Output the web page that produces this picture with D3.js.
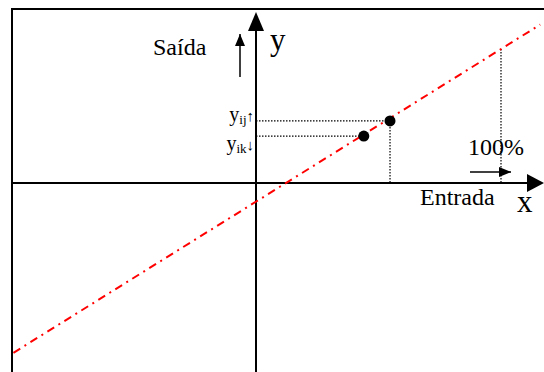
<!DOCTYPE html>
<html>
<head>
<meta charset="utf-8">
<script src="https://cdn.jsdelivr.net/npm/d3@7"></script>
<style>
body { margin: 0; background: #fff; }
text { font-family: "Liberation Serif", "Times New Roman", serif; fill: #000; }
</style>
</head>
<body>
<div id="chart"></div>
<script>
// straight line (input -> output), two end points in percent units
const lineX = [-99, 116]
const lineY = [-126.7, 118.2]
// the two marked points: y_ik (lower) and y_ij (upper)
const pointX = [44, 54.7]
const pointY = [35, 46.3]
const pointNames = ["ik", "ij"]
const fullScale = 100

const width = 544
const height = 372

const svg = d3.select('#chart')
  .append("svg")
  .attr("width", width)
  .attr("height", height)

// origin at (256,183), 100% at x=501
var x = d3.scaleLinear()
  .domain([0, fullScale])
  .range([256, 501]);

var y = d3.scaleLinear()
  .domain([0, fullScale])
  .range([183, 49]);

svg.append("defs").append("marker")
  .attr("id", "head")
  .attr("viewBox", "0 0 10 10")
  .attr("refX", 10).attr("refY", 5)
  .attr("markerWidth", 12).attr("markerHeight", 10)
  .attr("markerUnits", "userSpaceOnUse")
  .attr("orient", "auto")
  .attr("preserveAspectRatio", "none")
  .append("path")
  .attr("d", "M0,0L10,5L0,10Z")
  .style("fill", "#000")

// frame (only top and left edge visible)
svg.append("path")
  .attr("d", "M12," + height + "V9H" + width)
  .style("fill", "none")
  .style("stroke", "#000")
  .style("stroke-width", 2)

// x axis
svg.append("line")
  .attr("x1", 12).attr("x2", 530)
  .attr("y1", y(0)).attr("y2", y(0))
  .style("stroke", "#000").style("stroke-width", 2)
svg.append("path")
  .attr("d", "M" + 544 + "," + y(0) + "L527," + (y(0) - 9) + "L527," + (y(0) + 9) + "Z")
  .style("fill", "#000")

// y axis
svg.append("line")
  .attr("x1", x(0)).attr("x2", x(0))
  .attr("y1", height).attr("y2", 28)
  .style("stroke", "#000").style("stroke-width", 2)
svg.append("path")
  .attr("d", "M" + x(0) + ",12L" + (x(0) - 8) + ",31L" + (x(0) + 8) + ",31Z")
  .style("fill", "#000")

// dotted guide lines
var dotted = svg.append("g")
  .style("stroke", "#000")
  .style("stroke-width", 1.2)
  .style("stroke-dasharray", "1.5,1.5")
  .style("fill", "none")

dotted.selectAll("line.h")
  .data(d3.zip(pointX, pointY))
  .enter()
  .append("line")
  .attr("x1", x(0))
  .attr("x2", function (d) { return x(d[0]); })
  .attr("y1", function (d) { return y(d[1]); })
  .attr("y2", function (d) { return y(d[1]); })

dotted.append("line")
  .attr("x1", x(pointX[1])).attr("x2", x(pointX[1]))
  .attr("y1", y(pointY[1])).attr("y2", y(0))

var lineAtFull = lineY[0] + (fullScale - lineX[0]) * (lineY[1] - lineY[0]) / (lineX[1] - lineX[0])
dotted.append("line")
  .attr("x1", x(fullScale)).attr("x2", x(fullScale))
  .attr("y1", y(lineAtFull)).attr("y2", y(0))

// red dash-dot line
svg.append("path")
  .datum(d3.zip(lineX, lineY))
  .attr("d", d3.line().x(function (d) { return x(d[0]); }).y(function (d) { return y(d[1]); }))
  .style("fill", "none")
  .style("stroke", "#ff0000")
  .style("stroke-width", 2)
  .style("stroke-dasharray", "8,5,2,5")

// points
svg.append('g')
  .selectAll("dot")
  .data(d3.zip(pointX, pointY))
  .enter()
  .append("circle")
  .attr("cx", function (d) { return x(d[0]); })
  .attr("cy", function (d) { return y(d[1]); })
  .attr("r", 5.5)
  .style("fill", "#000")

// point labels on the y axis
var arrows = { "ij": "\u2191", "ik": "\u2193" }
pointNames.forEach(function (n, i) {
  var t = svg.append("text")
    .attr("x", 254)
    .attr("y", y(pointY[i]) + (i == 0 ? 14 : 0))
    .style("text-anchor", "end")
    .style("font-size", "20px")
  t.append("tspan").text("y")
  t.append("tspan").text(n).style("font-size", "13px").attr("dy", 3)
  t.append("tspan").text(arrows[n]).style("font-size", "15px").attr("dy", -3)
})

// small arrows
svg.append("line")
  .attr("x1", 240).attr("x2", 240)
  .attr("y1", 77).attr("y2", 34)
  .style("stroke", "#000").style("stroke-width", 1.5)
  .attr("marker-end", "url(#head)")

svg.append("line")
  .attr("x1", 470).attr("x2", 511)
  .attr("y1", 172).attr("y2", 172)
  .style("stroke", "#000").style("stroke-width", 1.5)
  .attr("marker-end", "url(#head)")

// labels
svg.append("text").attr("x", 153).attr("y", 55).style("font-size", "24px").text("Saída")
svg.append("text").attr("x", 270).attr("y", 50).style("font-size", "31px").text("y")
svg.append("text").attr("x", 468).attr("y", 155).style("font-size", "24px").text("100%")
svg.append("text").attr("x", 420).attr("y", 205).style("font-size", "24px").text("Entrada")
svg.append("text").attr("x", 517).attr("y", 212).style("font-size", "31px").text("x")
</script>
</body>
</html>
